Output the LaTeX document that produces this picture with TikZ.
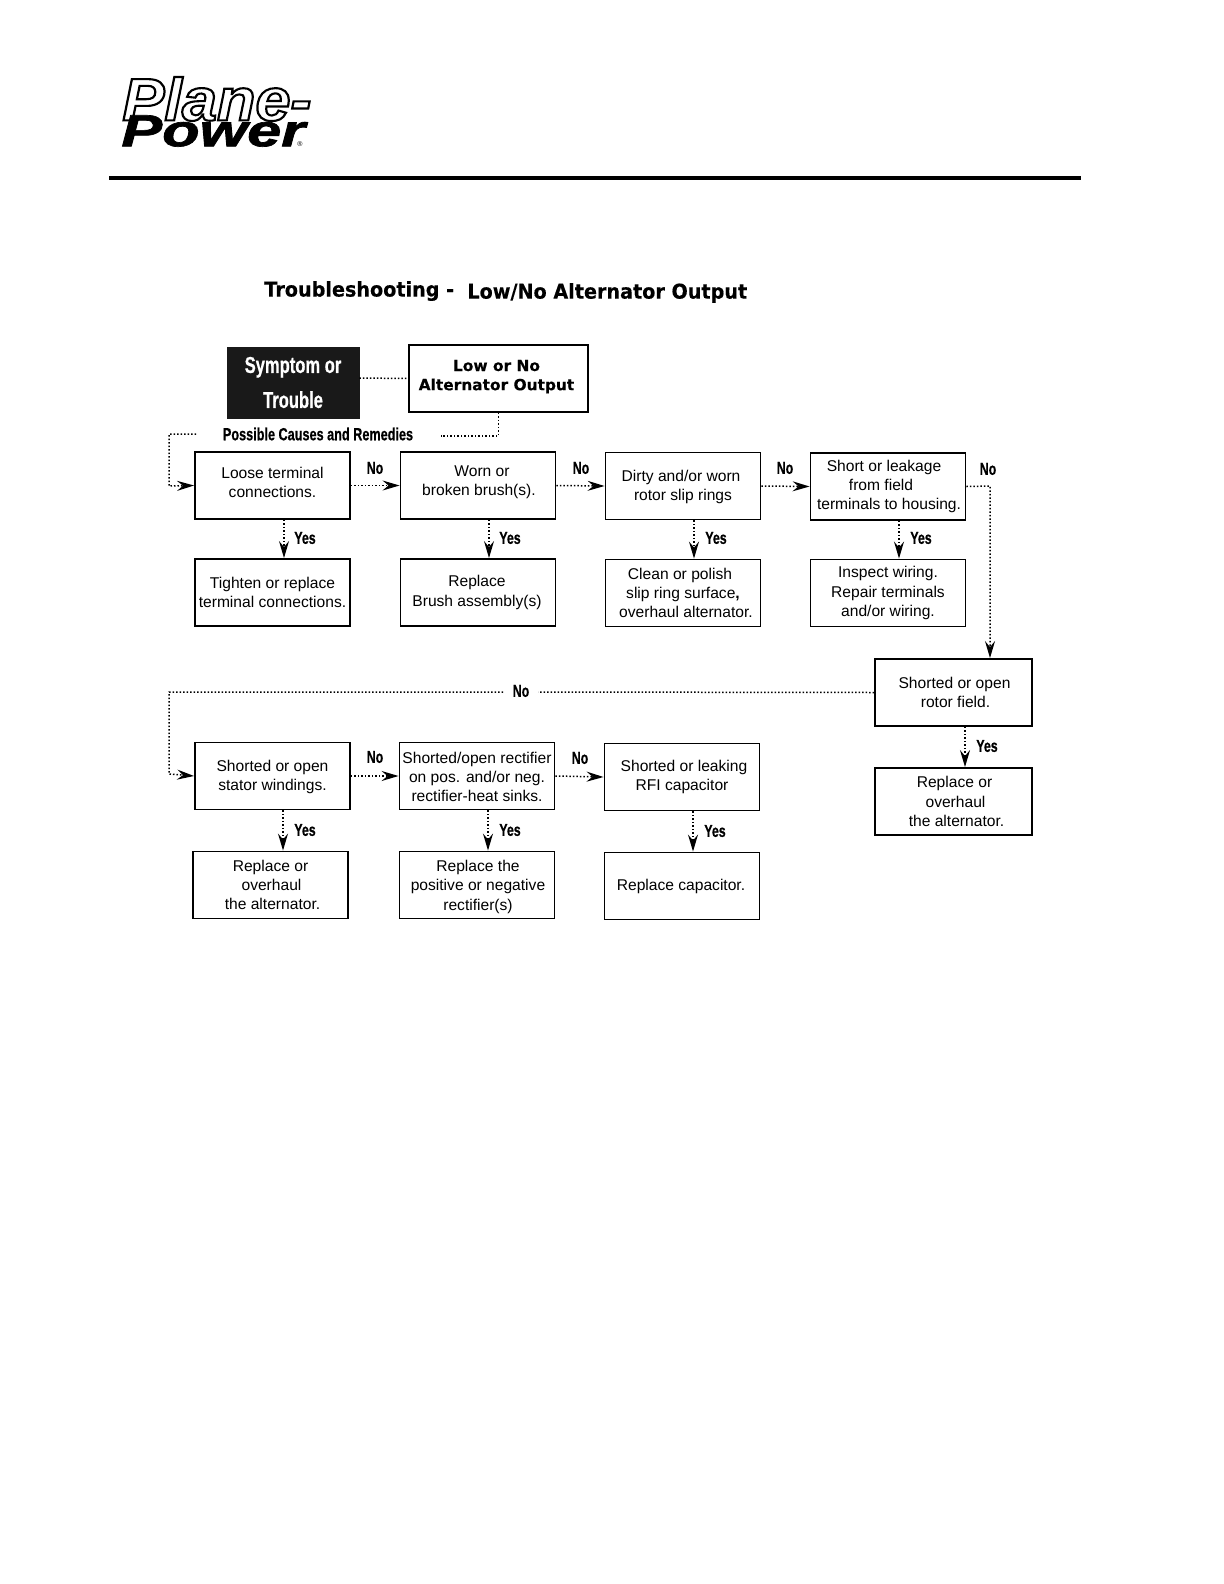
\documentclass[tikz,border=0pt]{standalone}
\usepackage{fontspec}
\setmainfont{Liberation Sans}
\newfontfamily\headfont[BoldFeatures={FakeBold=0.25}]{DejaVu Sans}
\newfontfamily\condfont[BoldFeatures={FakeBold=0.7}]{Liberation Sans}
\newfontfamily\planefont[BoldItalicFeatures={FakeBold=3.5}]{Liberation Sans}
\newfontfamily\powerfont[BoldItalicFeatures={FakeBold=1.5}]{Liberation Sans}
\usetikzlibrary{arrows.meta}
\newcommand{\cond}[1]{\scalebox{.72}[1]{\condfont\bfseries #1}}
\newcommand{\wide}[1]{\scalebox{.94}[1]{#1}}
\newcommand{\tup}[1]{\rule[-#1]{0pt}{0pt}}
\newcommand{\tdown}[1]{\rule{0pt}{#1}}
\begin{document}
\begin{tikzpicture}[x=0.5pt,y=-0.5pt,every node/.style={font=\fontsize{7.8}{9.6}\selectfont},
  sec/.style={draw,line width=0.95pt,minimum width=77.5pt,minimum height=33.5pt,align=center,inner sep=0pt},
  tag/.style={font=\fontsize{8.6}{10}\selectfont,inner sep=0pt},
  link/.style={line width=0.75pt,dash pattern=on 0.75pt off 1pt,-{Stealth[length=8.5pt,width=5pt,inset=3pt]}},
  plain/.style={line width=0.75pt,dash pattern=on 0.75pt off 1pt}]
  \useasboundingbox (0,0) rectangle (1224,1584);
  % letterhead
  \node[inner sep=0pt,anchor=west,font=\fontsize{30}{30}\selectfont\planefont\bfseries\itshape] (plane) at (122,99) {\scalebox{1.05}[1]{\special{pdf:bc [1] [0]}Plane-\special{pdf:ec}}};
  \node[inner sep=0pt,anchor=west,font=\fontsize{22.5}{22.5}\selectfont\powerfont\bfseries\itshape] (power) at (121,131) {\scalebox{1.36}[1]{Power}};
  \node[inner sep=0pt,font=\fontsize{3.5}{4}\selectfont] (reg) at (300,144) {®};
  \coordinate (ruleL) at (109,178);
  \coordinate (ruleR) at (1081,178);
  \draw[line width=2pt] (ruleL) -- (ruleR);
  \node[font=\headfont\fontsize{10.2}{12}\selectfont\bfseries,inner sep=0pt,anchor=west] (title) at (264,291) {\wide{Troubleshooting -}};
  \node[font=\headfont\fontsize{10.2}{12}\selectfont\bfseries,inner sep=0pt,anchor=west] (subtitle) at (467,293) {\wide{Low/No Alternator Output}};
  % top row
  \node[draw=black!90,fill=black!90,text=white,minimum width=66pt,minimum height=35.5pt,align=center,inner sep=0pt,font=\fontsize{11.5}{17.5}\selectfont] (symptom) at (293,382.5) {\cond{Symptom or}\\\cond{Trouble}};
  \node[sec,minimum width=89.5pt,font=\headfont\fontsize{7.7}{9.6}\selectfont\bfseries] (low) at (498.5,378.5) {\hspace*{-2pt}Low or No\\\hspace*{-2pt}Alternator Output\tup{3.5pt}};
  \node[tag,font=\fontsize{8.8}{10}\selectfont] (causes) at (318,434) {\cond{Possible Causes and Remedies}};
  \node[sec] (loose) at (272.5,485.5) {Loose terminal\\connections.\tup{3pt}};
  \node[sec] (worn) at (478,485.5) {\hspace*{4pt}Worn or\\\hspace*{1pt}broken brush(s).\tup{4.5pt}};
  \node[sec] (dirty) at (683,486) {\tdown{6.5pt}\hspace*{-2pt}Dirty and/or worn\\rotor slip rings};
  \node[sec] (short) at (888,486.5) {\hspace*{-4pt}Short or leakage\\\hspace*{-7pt}from field\\\hspace*{1pt}terminals to housing.};
  \node[sec] (tighten) at (272.5,592.5) {Tighten or replace\\terminal connections.};
  \node[sec] (brush) at (478,592.5) {\hspace*{-1pt}Replace\\\hspace*{-1pt}Brush assembly(s)};
  \node[sec] (clean) at (683,593) {\hspace*{-3pt}Clean or polish\\slip ring surface\textbf{,}\\\hspace*{3pt}overhaul alternator.};
  \node[sec] (inspect) at (888,593) {Inspect wiring.\\Repair terminals\\and/or wiring.};
  % right column
  \node[sec,minimum width=78.5pt] (rotor) at (953.5,692.5) {\hspace*{1pt}Shorted or open\\\hspace*{2pt}rotor field.};
  \node[sec,minimum width=78.5pt] (overhaulR) at (953.5,801.5) {\hspace*{1pt}Replace or\\\hspace*{2pt}overhaul\\\hspace*{3pt}the alternator.};
  % bottom rows
  \node[sec] (stator) at (272.5,776) {\tdown{7pt}Shorted or open\\stator windings.};
  \node[sec] (rectifier) at (477,776) {\tdown{6.5pt}Shorted/open rectifier\\on pos. and/or neg.\\rectifier-heat sinks.};
  \node[sec] (rfi) at (682,777) {\hspace*{2pt}Shorted or leaking\\RFI capacitor};
  \node[sec] (overhaulL) at (270.5,885) {Replace or\\\hspace*{1pt}overhaul\\\hspace*{2pt}the alternator.};
  \node[sec] (positive) at (477,885) {\tdown{7.5pt}\hspace*{1pt}Replace the\\\hspace*{1pt}positive or negative\\\hspace*{1pt}rectifier(s)};
  \node[sec] (capacitor) at (682,886) {\hspace*{-1pt}Replace capacitor.};
  % yes / no tags
  \node[tag] (no1) at (375,468) {\cond{No}};
  \node[tag] (no2) at (581,468) {\cond{No}};
  \node[tag] (no3) at (785,468) {\cond{No}};
  \node[tag] (no4) at (988,469) {\cond{No}};
  \node[tag] (no5) at (521,691) {\cond{No}};
  \node[tag] (no6) at (375,757) {\cond{No}};
  \node[tag] (no7) at (580,758) {\cond{No}};
  \node[tag] (yes1) at (305,538) {\cond{Yes}};
  \node[tag] (yes2) at (510,538) {\cond{Yes}};
  \node[tag] (yes3) at (716,538) {\cond{Yes}};
  \node[tag] (yes4) at (921,538) {\cond{Yes}};
  \node[tag] (yes5) at (987,746) {\cond{Yes}};
  \node[tag] (yes6) at (305,830) {\cond{Yes}};
  \node[tag] (yes7) at (510,830) {\cond{Yes}};
  \node[tag] (yes8) at (715,831) {\cond{Yes}};
  % bends
  \coordinate (lowdown) at (498.5,436);
  \coordinate (lowend) at (441,436);
  \coordinate (causesL) at (196,434);
  \coordinate (causesC) at (169,434);
  \coordinate (looseC) at (169,486);
  \coordinate (shortC) at (990,486);
  \coordinate (noL) at (538,692);
  \coordinate (noR) at (503,692);
  \coordinate (farC) at (169,692);
  \coordinate (statorC) at (169,774);
  % connectors
  \draw[plain] (symptom.east |- 0,378) -- (low.west);
  \draw[plain] (low.south) -- (lowdown) -- (lowend);
  \draw[link] (causesL) -- (causesC) -- (looseC) -- (loose.west);
  \draw[link] (loose.east) -- (worn.west);
  \draw[link] (worn.east) -- (dirty.west);
  \draw[link] (dirty.east) -- (short.west);
  \draw[link] (short.east) -- (shortC) -- (shortC |- rotor.north);
  \draw[plain] (rotor.west) -- (noL);
  \draw[link] (noR) -- (farC) -- (statorC) -- (stator.west);
  \draw[link] (stator.east) -- (rectifier.west);
  \draw[link] (rectifier.east) -- (rfi.west);
  \draw[link] (loose.south -| 284,0) -- (tighten.north -| 284,0);
  \draw[link] (worn.south -| 489,0) -- (brush.north -| 489,0);
  \draw[link] (dirty.south -| 694,0) -- (clean.north -| 694,0);
  \draw[link] (short.south -| 899,0) -- (inspect.north -| 899,0);
  \draw[link] (rotor.south -| 965,0) -- (overhaulR.north -| 965,0);
  \draw[link] (stator.south -| 283,0) -- (overhaulL.north -| 283,0);
  \draw[link] (rectifier.south -| 488,0) -- (positive.north -| 488,0);
  \draw[link] (rfi.south -| 693,0) -- (capacitor.north -| 693,0);
\end{tikzpicture}
\end{document}
